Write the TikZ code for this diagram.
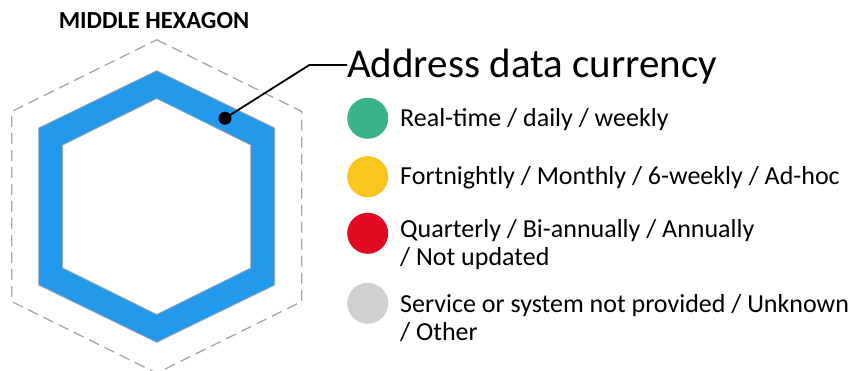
\documentclass[tikz,border=0pt]{standalone}
\usepackage{fontspec}
\setmainfont{Carlito}
\usepackage{tikz}
\definecolor{hex_blue}{HTML}{2299EB}
\definecolor{hex_edge}{HTML}{A6A6A6}
\definecolor{dot_green}{HTML}{3AB28A}
\definecolor{dot_yellow}{HTML}{FBC41E}
\definecolor{dot_red}{HTML}{E10A20}
\definecolor{dot_grey}{HTML}{D0D0D0}
\tikzset{legend dot/.style={circle, minimum size=41pt, inner sep=0pt},
         legend text/.style={anchor=base west, inner sep=0pt, align=left,
                             font=\fontsize{26}{28}\selectfont}}

\begin{document}
\begin{tikzpicture}[x=1pt, y=-1pt]
\useasboundingbox (0,0) rectangle (850,371);

% Title above the hexagon
\node[font=\fontsize{24.5}{28}\selectfont\bfseries] (title) at (154,21) {MIDDLE HEXAGON};

% Draw the outer dashed hexagon
\draw[hex_edge, line width=1.3pt, dash pattern=on 11pt off 6pt]
  (156.7,39.8) -- (301.7,111.5) -- (301.7,301.5) -- (156.7,373.2)
  -- (11.7,301.5) -- (11.7,111.5) -- cycle;

% Draw the thick blue band between two hexagons
\fill[hex_blue, even odd rule]
  (156.7,70.7) -- (274.7,128) -- (274.7,285) -- (156.7,342.3)
  -- (38.7,285) -- (38.7,128) -- cycle
  (156.7,98.5) -- (250.7,145) -- (250.7,268) -- (156.7,314.5)
  -- (62.7,268) -- (62.7,145) -- cycle;
% Thin grey edges of the band
\draw[hex_edge, line width=0.8pt]
  (156.7,70.7) -- (274.7,128) -- (274.7,285) -- (156.7,342.3)
  -- (38.7,285) -- (38.7,128) -- cycle;
\draw[hex_edge, line width=0.8pt]
  (156.7,98.5) -- (250.7,145) -- (250.7,268) -- (156.7,314.5)
  -- (62.7,268) -- (62.7,145) -- cycle;

% Leader from the band to the heading
\node[circle, fill=black, minimum size=13pt, inner sep=0pt] (dot) at (225,118.3) {};
\coordinate (elbow) at (309.3,65);
\node[anchor=base west, inner sep=0pt, font=\fontsize{41}{44}\selectfont] (currency) at (347,77.7) {Address data currency};
\draw[black, line width=1.8pt] (dot.center) -- (elbow) -- (elbow -| currency.west);

% Legend dots
\node[legend dot, fill=dot_green] (green) at (367.7,118.3) {};
\node[legend dot, fill=dot_yellow] (yellow) at (367.7,176.7) {};
\node[legend dot, fill=dot_red] (red) at (367.7,233.3) {};
\node[legend dot, fill=dot_grey] (grey) at (367.7,303.3) {};

% Legend texts (two-line ones sit on their last line)
\node[legend text] (green text) at (400,126.7) {Real-time / daily / weekly};
\node[legend text] (yellow text) at (400,185) {Fortnightly / Monthly / 6-weekly / Ad-hoc};
\node[legend text] (red text) at (400,265) {Quarterly / Bi-annually / Annually\\/ Not updated};
\node[legend text] (grey text) at (400,340) {Service or system not provided / Unknown\\/ Other};

\end{tikzpicture}
\end{document}
